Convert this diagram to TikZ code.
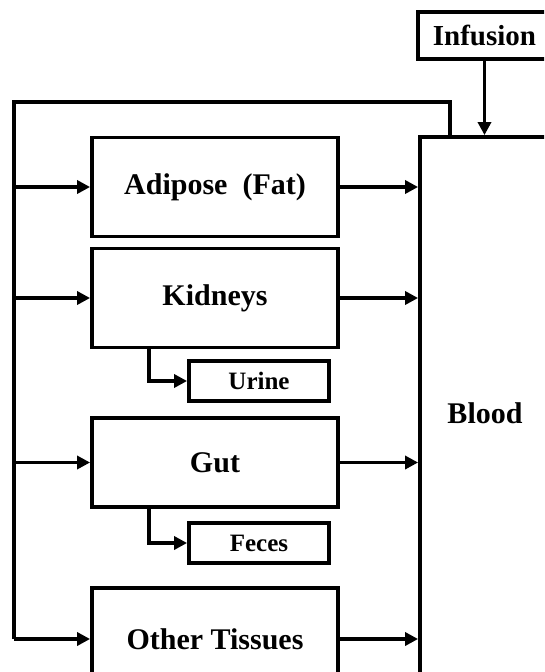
\documentclass[tikz,border=0pt]{standalone}
\usepackage{fontspec}
\setmainfont{Liberation Serif}
\usetikzlibrary{arrows.meta}
\begin{document}
\begin{tikzpicture}[x={(1pt,0)},y={(0,-1pt)},
  box/.style={draw=black,line width=3.8pt,fill=white,inner sep=0pt,font=\fontsize{30}{34}\selectfont\bfseries},
  smallbox/.style={box,font=\fontsize{25}{28}\selectfont\bfseries},
  conn/.style={line width=3.4pt},
  arr/.style={conn,-{Triangle[length=13pt,width=13pt]}}]
\useasboundingbox[fill=white] (0,0) rectangle (544,672);
\clip (0,0) rectangle (544,672);
% nodes
\node[box,minimum width=130pt,minimum height=552pt] (blood) at (485,413) {Blood};
\node[box,font=\fontsize{29}{32}\selectfont\bfseries,minimum width=133pt,minimum height=47pt] (inf) at (484.5,35.5) {Infusion};
\node[box,minimum width=246pt,minimum height=99pt] (adi) at (215,187) {Adipose~~(Fat)};
\node[box,minimum width=246pt,minimum height=99pt] (kid) at (215,298) {Kidneys};
\node[smallbox,minimum width=140pt,minimum height=40pt] (uri) at (259,381) {Urine};
\node[box,minimum width=246pt,minimum height=89pt] (gut) at (215,462.5) {Gut};
\node[smallbox,minimum width=140pt,minimum height=40pt] (fec) at (259,543) {Feces};
\node[box,minimum width=246pt,minimum height=102pt] (oth) at (215,639) {Other Tissues};
% coordinates
\coordinate (fbr) at (450,102);
\coordinate (fbl) at (14,102);
\coordinate (bus) at (14,639);
\coordinate (kd) at (149,0);
% infusion
\draw[arr] (inf.south) -- (blood.north -| inf.south);
% feedback bus
\draw[conn,line join=miter] (blood.north -| fbr) -- (fbr) -- (fbl) -- (bus |- oth.west);
% in arrows
\foreach \n in {adi,kid,gut,oth}{
  \draw[arr] (\n.west -| bus) -- (\n.west);
  \draw[arr] (\n.east) -- (\n.east -| blood.west);
}
% excretion
\draw[arr,line join=miter] (kid.south -| kd) |- (uri.west);
\draw[arr,line join=miter] (gut.south -| kd) |- (fec.west);
\end{tikzpicture}
\end{document}
